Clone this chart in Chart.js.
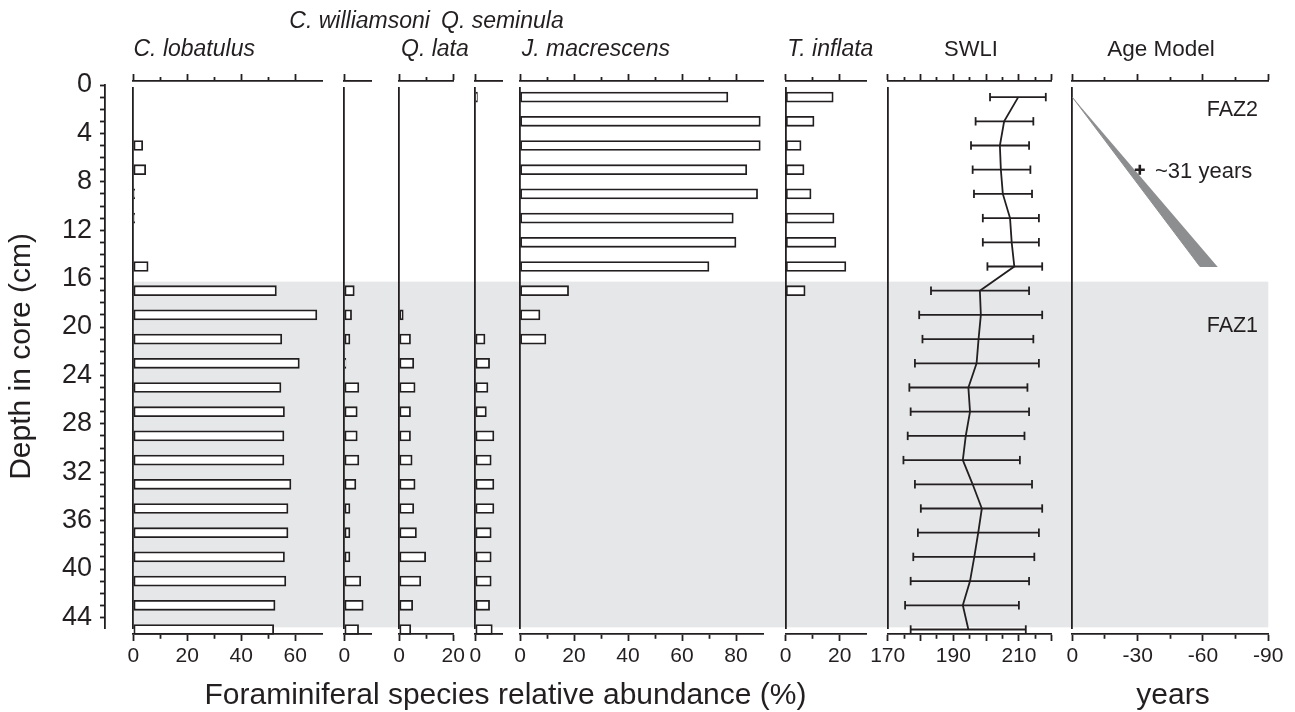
<!DOCTYPE html>
<html>
<head>
<meta charset="utf-8">
<script src="https://cdn.jsdelivr.net/npm/chart.js@4.4.1/dist/chart.umd.min.js"></script>
<style>
html,body{margin:0;padding:0;background:#fff;}
#wrap{position:relative;width:1295px;height:712px;overflow:hidden;font-family:"Liberation Sans",Arial,Helvetica,sans-serif;color:#231f20;}
#wrap canvas{position:absolute;left:0;top:0;}
.t{position:absolute;white-space:nowrap;line-height:1;z-index:5;}
.i{font-style:italic;}
</style>
</head>
<body>
<div id="wrap">
<canvas id="cDepth" width="1295" height="712"></canvas>
<canvas id="cLob" width="1295" height="712"></canvas>
<canvas id="cWil" width="1295" height="712"></canvas>
<canvas id="cLat" width="1295" height="712"></canvas>
<canvas id="cSem" width="1295" height="712"></canvas>
<canvas id="cMac" width="1295" height="712"></canvas>
<canvas id="cInf" width="1295" height="712"></canvas>
<canvas id="cSwli" width="1295" height="712"></canvas>
<canvas id="cAge" width="1295" height="712"></canvas>

<div class="t i" style="left:289.3px;top:8.8px;font-size:23px">C. williamsoni</div>
<div class="t i" style="left:441px;top:8.8px;font-size:23px">Q. seminula</div>
<div class="t i" style="left:133.5px;top:37.3px;font-size:23px">C. lobatulus</div>
<div class="t i" style="left:401px;top:37.3px;font-size:23px">Q. lata</div>
<div class="t i" style="left:521.7px;top:37.3px;font-size:23px">J. macrescens</div>
<div class="t i" style="left:787.3px;top:37.3px;font-size:23px">T. inflata</div>
<div class="t" style="left:871px;width:200px;text-align:center;top:38.4px;font-size:22px">SWLI</div>
<div class="t" style="left:1061px;width:200px;text-align:center;top:38px;font-size:22.5px">Age Model</div>
<div class="t" style="left:1206.7px;top:98.5px;font-size:21.5px">FAZ2</div>
<div class="t" style="left:1206.7px;top:314.5px;font-size:21.5px">FAZ1</div>
<div class="t" style="left:1155px;top:159.7px;font-size:22px">~31 years</div>
<div class="t" style="left:105.5px;width:800px;text-align:center;top:678.6px;font-size:30px">Foraminiferal species relative abundance (%)</div>
<div class="t" style="left:1073px;width:200px;text-align:center;top:678.6px;font-size:30px">years</div>
</div>

<script>
// ---------------- DATA ----------------
const DEPTHS = [1,3,5,7,9,11,13,15,17,19,21,23,25,27,29,31,33,35,37,39,41,43,45];

const LOBATULUS   = [0,0,3.5,4.6,0.5,0.5,0,5.5,53,68,55,61.5,54.7,56,55.8,55.8,58.4,57.3,57.3,56,56.5,52.5,52];
const WILLIAMSONI = [0,0,0,0,0,0,0,0,3.7,2.7,2.1,0.6,5.4,4.8,4.8,5.4,4.3,2.1,2.1,2.1,6.1,7.0,5.3];
const LATA        = [0,0,0,0,0,0,0,0,0,1.5,4.2,5.4,5.9,4.2,4.2,4.8,5.9,5.4,6.4,9.8,8.0,5.0,4.3];
const SEMINULA    = [0.8,0,0,0,0,0,0,0,0,0,3.6,5.3,4.7,4.1,6.9,5.9,6.9,6.9,5.9,5.9,5.9,5.3,6.3];
const MACRESCENS  = [77,89,89,84,88,79,80,70,18,7.4,9.6,0,0,0,0,0,0,0,0,0,0,0,0];
const INFLATA     = [17.6,10.5,5.7,6.8,9.4,17.9,18.6,22.3,7.2,0,0,0,0,0,0,0,0,0,0,0,0,0,0];

const SWLI     = [209.8,205.5,204.2,204.5,205.1,207.3,207.8,208.6,198.1,198.4,197.7,197.1,194.6,195.1,193.8,192.9,195.9,198.7,197.6,196.4,195.1,192.9,194.6];
const SWLI_LOW = [201.2,196.8,195.4,195.9,196.3,199.0,199.0,200.4,183.2,179.6,180.6,178.3,176.6,177.0,176.1,174.8,178.3,180.1,179.2,177.8,177.0,175.3,177.0];
const SWLI_HIGH= [218.2,214.4,213.1,213.5,214.0,216.1,216.1,217.1,213.1,217.1,214.4,216.1,212.6,213.1,211.7,210.3,214.0,217.1,216.1,214.7,213.1,210.0,212.1];

const AGE_YEARS = [0, -58.6, -66.6];     // age-model envelope vertices (years)
const AGE_DEPTHS = [1.0, 15.0, 15.0];    // matching depths (cm)
const DATED_YEARS = [-31];
const DATED_DEPTHS = [7];

const FAZ_BOUNDARY = [16.25, 44.82];     // FAZ1 shaded depth range

// tick positions / labels
const DEPTH_LABELS = [0,4,8,12,16,20,24,28,32,36,40,44];
const LOB_TICKS = [0,10,20,30,40,50,60],  LOB_LABELS = [0,20,40,60];
const WIL_TICKS = [0],                    WIL_LABELS = [0];
const LAT_TICKS = [0,10,20],              LAT_LABELS = [0,20];
const SEM_TICKS = [0],                    SEM_LABELS = [0];
const MAC_TICKS = [0,10,20,30,40,50,60,70,80], MAC_LABELS = [0,20,40,60,80];
const INF_TICKS = [0,10,20],              INF_LABELS = [0,20];
const SWLI_TICKS = [170,175,180,185,190,195,200,205,210,215,220];
const SWLI_MAJOR = [170,180,190,200,210,220], SWLI_LABELS = [170,190,210];
const AGE_TICKS = [0,-15,-30,-45,-60,-75,-90], AGE_LABELS = [0,-30,-60,-90];

// ---------------- LAYOUT ----------------
const W = 1295, H = 712;
const INK = '#231f20';
const LW = 1.8;
const Y0 = 85, PPC = 12.1;                 // pixel of depth 0, pixels per cm
const PANEL_TOP = 88, PANEL_BOTTOM = 628, DEPTH_AXIS_BOTTOM = 628;
const depthAt = px => (px - Y0) / PPC;
const TL = 7, MINOR = 4, BOT_H = 40;
const TOP_SHIFT = 7, BOT_SHIFT = 6;
const BAND_LEFT = 133.3, BAND_RIGHT = 1268.3;

Chart.defaults.font.family = '"Liberation Sans", Arial, Helvetica, sans-serif';
Chart.defaults.color = INK;

const shiftAxes = {
  id: 'shiftAxes',
  afterLayout(chart) {
    const t = chart.scales.xTop, b = chart.scales.x;
    if (t) { t.top -= TOP_SHIFT; t.bottom -= TOP_SHIFT; }
    if (b) { b.top += BOT_SHIFT; b.bottom += BOT_SHIFT; }
  }
};

const bandPlugin = {
  id: 'fazBand',
  beforeDraw(chart) {
    const y = chart.scales.y, ctx = chart.ctx;
    const t = y.getPixelForValue(FAZ_BOUNDARY[0]), b = y.getPixelForValue(FAZ_BOUNDARY[1]);
    ctx.save();
    ctx.fillStyle = '#e6e7e8';
    ctx.fillRect(BAND_LEFT, t, BAND_RIGHT - BAND_LEFT, b - t);
    ctx.restore();
  }
};

function xAxis(pos, P) {
  const isTop = pos === 'top';
  const isMinor = c => c && c.tick && !P.major.includes(c.tick.value);
  return {
    type: 'linear', axis: 'x', position: pos, min: P.min, max: P.max, reverse: !!P.reverse, offset: false,
    afterBuildTicks: s => { s.ticks = P.ticks.map(v => ({value: v})); },
    afterFit: s => { s.height = isTop ? TL : BOT_H; },
    border: {display: true, color: INK, width: LW},
    grid: {
      display: true, drawOnChartArea: false, drawTicks: true, tickLength: TL,
      tickColor: INK, tickWidth: LW,
      tickBorderDash: c => isMinor(c) ? [MINOR, 30] : [],
      tickBorderDashOffset: c => (isTop && isMinor(c)) ? (MINOR + 30) - (TL - MINOR) : 0
    },
    ticks: {
      display: !isTop, autoSkip: false, maxRotation: 0, minRotation: 0, padding: 3,
      font: {size: 21}, color: INK,
      callback: v => P.labels.includes(v) ? String(v) : ''
    }
  };
}

function yAxis() {
  return {
    type: 'linear', position: 'left', reverse: true, offset: false,
    min: depthAt(PANEL_TOP), max: depthAt(PANEL_BOTTOM),
    ticks: {display: false}, grid: {display: false},
    border: {display: true, color: INK, width: LW},
    afterFit: s => { s.width = 0; }
  };
}

function baseOptions(P) {
  return {
    responsive: false, animation: false, devicePixelRatio: 1, events: [],
    layout: {autoPadding: false, padding: {left: P.left, right: W - P.right, top: PANEL_TOP - TL, bottom: H - PANEL_BOTTOM - BOT_H}},
    plugins: {legend: {display: false}, tooltip: {enabled: false}},
    scales: {x: xAxis('bottom', P), xTop: xAxis('top', P), y: yAxis()}
  };
}

function barPanel(id, P, values) {
  const opts = baseOptions(P);
  opts.indexAxis = 'y';
  new Chart(document.getElementById(id), {
    type: 'bar',
    data: {datasets: [{
      data: DEPTHS.map((d, i) => ({x: values[i], y: d})).filter(p => p.x > 0),
      backgroundColor: '#ffffff', borderColor: INK, borderWidth: LW, borderSkipped: false,
      barThickness: 10, clip: false, xAxisID: 'x', yAxisID: 'y'
    }]},
    options: opts,
    plugins: [shiftAxes]
  });
}

// depth axis + FAZ band
new Chart(document.getElementById('cDepth'), {
  type: 'scatter',
  data: {datasets: []},
  options: {
    responsive: false, animation: false, devicePixelRatio: 1, events: [],
    layout: {autoPadding: false, padding: {left: 0, right: W - BAND_LEFT, top: Y0, bottom: H - DEPTH_AXIS_BOTTOM}},
    plugins: {legend: {display: false}, tooltip: {enabled: false}},
    scales: {
      x: {type: 'linear', display: false, min: 0, max: 1},
      y: {
        type: 'linear', position: 'left', reverse: true, offset: false,
        min: 0, max: depthAt(DEPTH_AXIS_BOTTOM),
        afterBuildTicks: s => { s.ticks = Array.from({length: 45}, (_, i) => ({value: i})); },
        afterFit: s => { s.width = 105; },
        ticks: {font: {size: 27}, color: INK, padding: 8, autoSkip: false,
                callback: v => DEPTH_LABELS.includes(v) ? String(v) : ''},
        grid: {display: true, drawOnChartArea: false, drawTicks: true, tickLength: 5, tickColor: INK, tickWidth: LW},
        border: {display: true, color: INK, width: LW},
        title: {display: true, text: 'Depth in core (cm)', font: {size: 30}, color: INK, padding: {top: 4, bottom: 0}}
      }
    }
  },
  plugins: [bandPlugin]
});

barPanel('cLob', {left: 133.3, right: 322.3, min: 0, max: 70, ticks: LOB_TICKS, major: LOB_LABELS, labels: LOB_LABELS}, LOBATULUS);
barPanel('cWil', {left: 344.3, right: 371.3, min: 0, max: 10, ticks: WIL_TICKS, major: WIL_LABELS, labels: WIL_LABELS}, WILLIAMSONI);
barPanel('cLat', {left: 399.2, right: 453.2, min: 0, max: 20, ticks: LAT_TICKS, major: LAT_LABELS, labels: LAT_LABELS}, LATA);
barPanel('cSem', {left: 475.3, right: 502.3, min: 0, max: 10, ticks: SEM_TICKS, major: SEM_LABELS, labels: SEM_LABELS}, SEMINULA);
barPanel('cMac', {left: 520, right: 763, min: 0, max: 90, ticks: MAC_TICKS, major: MAC_LABELS, labels: MAC_LABELS}, MACRESCENS);
barPanel('cInf', {left: 785.7, right: 866.7, min: 0, max: 30, ticks: INF_TICKS, major: INF_LABELS, labels: INF_LABELS}, INFLATA);

// SWLI panel
(function () {
  const P = {left: 887.7, right: 1051.7, min: 170, max: 220, ticks: SWLI_TICKS, major: SWLI_MAJOR, labels: SWLI_LABELS};
  const datasets = [{
    data: DEPTHS.map((d, i) => ({x: SWLI[i], y: d})),
    showLine: true, borderColor: INK, borderWidth: LW, pointRadius: 0, tension: 0, clip: false
  }];
  DEPTHS.forEach((d, i) => {
    datasets.push({
      data: [{x: SWLI_LOW[i], y: d}, {x: SWLI_HIGH[i], y: d}],
      showLine: true, borderColor: INK, borderWidth: LW,
      pointStyle: 'line', pointRotation: 90, pointRadius: 4.2,
      pointBorderColor: INK, pointBorderWidth: LW, clip: false
    });
  });
  new Chart(document.getElementById('cSwli'), {
    type: 'scatter', data: {datasets}, options: baseOptions(P), plugins: [shiftAxes]
  });
})();

// Age model panel
(function () {
  const P = {left: 1072.3, right: 1268.3, min: -90, max: 0, reverse: true, ticks: AGE_TICKS, major: AGE_LABELS, labels: AGE_LABELS};
  new Chart(document.getElementById('cAge'), {
    type: 'scatter',
    data: {datasets: [
      {
        data: DATED_YEARS.map((x, i) => ({x, y: DATED_DEPTHS[i]})),
        pointStyle: 'cross', pointRadius: 5, pointBorderWidth: 2.6, pointBorderColor: INK, borderColor: INK
      },
      {
        data: AGE_YEARS.map((x, i) => ({x, y: AGE_DEPTHS[i]})),
        showLine: true, fill: 'shape', backgroundColor: '#8d8e90', borderColor: '#8d8e90',
        borderWidth: 1, pointRadius: 0, tension: 0
      }
    ]},
    options: baseOptions(P),
    plugins: [shiftAxes]
  });
})();
</script>
</body>
</html>
